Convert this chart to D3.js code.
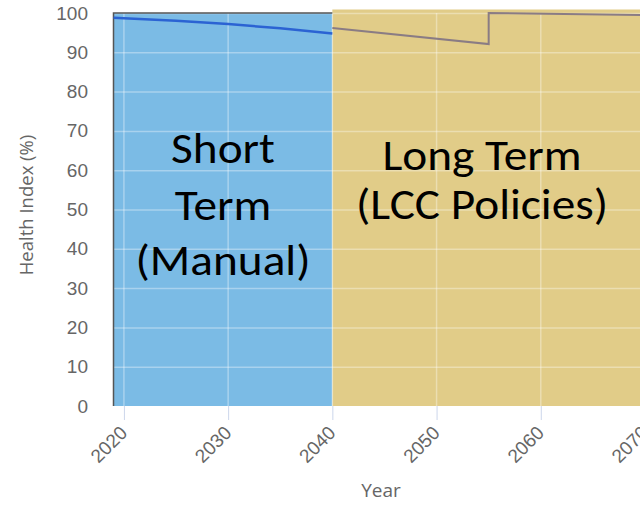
<!DOCTYPE html>
<html lang="en">
<head>
<meta charset="utf-8">
<title>Health Index</title>
<script src="https://d3js.org/d3.v7.min.js"></script>
<style>
  body { margin: 0; background: #fff; }
  svg { display: block; font-family: "Open Sans", "DejaVu Sans", sans-serif; }
</style>
</head>
<body>
<div id="chart"></div>
<script>
// data
var yearTicks = [2020, 2030, 2040, 2050, 2060, 2070];
var healthTicks = [0, 10, 20, 30, 40, 50, 60, 70, 80, 90, 100];

var shortYears = [2019, 2025, 2030, 2035, 2040];
var shortHealth = [98.8, 98.0, 97.2, 96.1, 94.8];

var longYears = [2040, 2055, 2055, 2070];
var longHealth = [96.2, 92.1, 100, 99.5];

var phaseStart = [2019, 2040];
var phaseEnd = [2040, 2072];
var phaseLabels = [["Short", "Term", "(Manual)"], ["Long Term", "(LCC Policies)"]];

var W = 640, H = 505;

var svg = d3.select("#chart").append("svg")
    .attr("width", W)
    .attr("height", H);

// scales
var x = d3.scaleLinear().domain([2019, 2070]).range([113.5, 645]);
var y = d3.scaleLinear().domain([0, 100]).range([406, 13]);

// phase backgrounds
var phaseFill = ["#7bbbe5", "#e1cc88"];
var phaseTop = [y(100), 9.5];
svg.selectAll("rect.phase")
  .data(phaseStart)
  .enter().append("rect")
    .attr("class", "phase")
    .attr("x", function(d) { return x(d); })
    .attr("y", function(d, i) { return phaseTop[i]; })
    .attr("width", function(d, i) { return x(phaseEnd[i]) - x(d); })
    .attr("height", function(d, i) { return y(0) - phaseTop[i]; })
    .style("fill", function(d, i) { return phaseFill[i]; });

// grid lines
svg.append("g")
  .selectAll("line")
  .data(healthTicks.slice(1))
  .enter().append("line")
    .attr("x1", x(2019)).attr("x2", W)
    .attr("y1", function(d) { return y(d) + 0.5; })
    .attr("y2", function(d) { return y(d) + 0.5; })
    .style("stroke", "#fff").style("stroke-opacity", 0.35).style("stroke-width", 1.5);

svg.append("g")
  .selectAll("line")
  .data(yearTicks)
  .enter().append("line")
    .attr("x1", function(d) { return x(d); })
    .attr("x2", function(d) { return x(d); })
    .attr("y1", y(100)).attr("y2", y(0))
    .style("stroke", "#fff").style("stroke-opacity", 0.35).style("stroke-width", 1.5);

// plot border (left + top of short term part)
svg.append("path")
    .attr("d", "M" + x(2019) + "," + y(0) + "V" + y(100) + "H" + x(2040))
    .style("fill", "none").style("stroke", "#555").style("stroke-width", 1.5);

// x axis
var xAxis = svg.append("g")
    .attr("transform", "translate(0," + y(0) + ")")
    .call(d3.axisBottom(x).tickValues(yearTicks).tickFormat(d3.format("d")).tickSize(14).tickSizeOuter(0));
xAxis.select(".domain").remove();
xAxis.selectAll(".tick line").style("stroke", "#ccd6eb");
xAxis.selectAll(".tick text")
    .style("font-size", "19px")
    .style("fill", "#666")
    .attr("text-anchor", "end")
    .attr("x", 0).attr("y", 0).attr("dy", 0)
    .attr("transform", "translate(4,28) rotate(-45)");

// y axis
var yAxis = svg.append("g")
    .attr("transform", "translate(88,0)")
    .call(d3.axisLeft(y).tickValues(healthTicks).tickSize(0).tickPadding(0));
yAxis.select(".domain").remove();
yAxis.selectAll(".tick text")
    .style("font-size", "19px")
    .style("fill", "#666");

// axis titles
svg.append("text")
    .attr("transform", "translate(33,205) rotate(-90)")
    .attr("text-anchor", "middle")
    .style("font-size", "18.5px")
    .style("fill", "#666")
    .text("Health Index (%)");

svg.append("text")
    .attr("x", 381).attr("y", 497)
    .attr("text-anchor", "middle")
    .style("font-size", "19px")
    .style("fill", "#666")
    .text("Year");

// series lines
var line = d3.line()
    .x(function(d) { return x(d[0]); })
    .y(function(d) { return y(d[1]); });

svg.append("path")
    .datum(d3.zip(shortYears, shortHealth))
    .attr("d", line)
    .style("fill", "none").style("stroke", "#2b63d3").style("stroke-width", 2.5);

svg.append("path")
    .datum(d3.zip(longYears, longHealth))
    .attr("d", line)
    .style("fill", "none").style("stroke", "#8a7c84").style("stroke-width", 2);

// phase labels (slightly widened to get a Calibri-like shape)
var labelX = [223, 482];
var labelY = [[163, 220, 275], [170, 219]];
phaseLabels.forEach(function(lines, i) {
  svg.append("g")
      .attr("transform", "translate(" + labelX[i] + ",0) scale(1.1,1)")
    .selectAll("text")
    .data(lines)
    .enter().append("text")
      .attr("x", 0)
      .attr("y", function(d, j) { return labelY[i][j]; })
      .attr("text-anchor", "middle")
      .style("font-family", "Carlito, Lato, sans-serif")
      .style("font-size", "43px")
      .style("fill", "#000")
      .text(function(d) { return d; });
});
</script>
</body>
</html>
